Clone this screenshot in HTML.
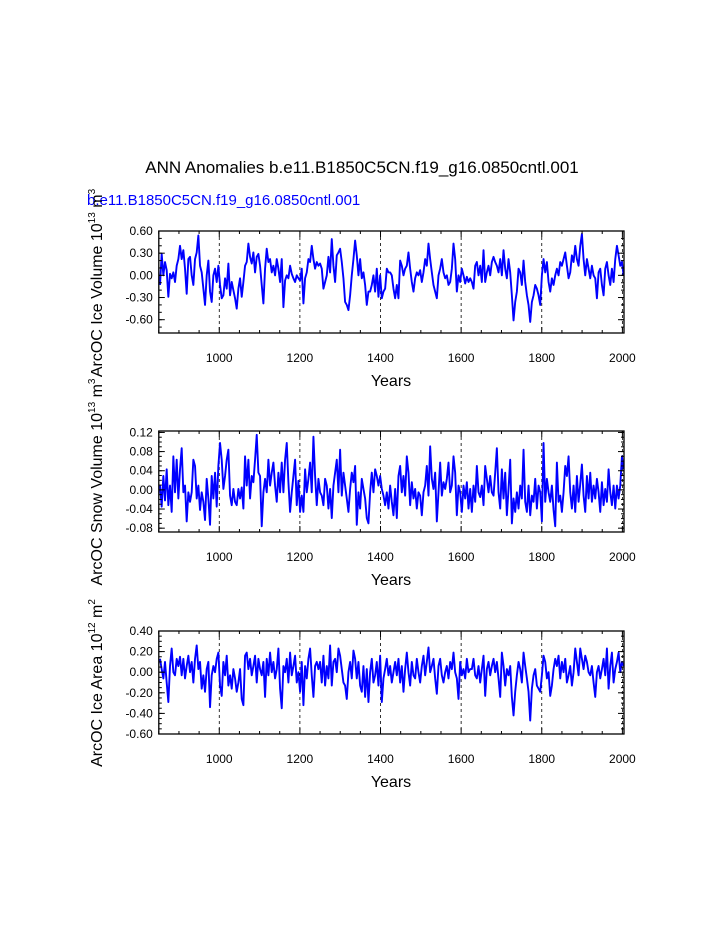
<!DOCTYPE html>
<html><head><meta charset="utf-8"><style>
body{margin:0;background:#fff;}
svg{display:block;font-family:"Liberation Sans",sans-serif;}
</style></head><body>
<svg id="chart" width="723" height="935" viewBox="0 0 723 935" xmlns="http://www.w3.org/2000/svg">
<text x="362" y="173" text-anchor="middle" font-size="17">ANN Anomalies b.e11.B1850C5CN.f19_g16.0850cntl.001</text>
<text x="87" y="205" font-size="15" fill="#0000ff">b.e11.B1850C5CN.f19_g16.0850cntl.001</text>
</svg>
<script>
const iceVol = [-0.13,0.29,0,0.18,0.07,-0.29,0.02,-0.04,0.04,-0.09,0.13,0.22,0.40,0.22,0.34,0.09,-0.25,0.22,0.25,0,-0.13,0.22,0.31,0.54,0.13,0.04,-0.18,-0.40,0,0.20,-0.22,-0.36,0,0.09,-0.09,0.13,-0.13,-0.31,-0.27,-0.04,-0.18,0.16,-0.27,-0.09,-0.20,-0.31,-0.45,-0.18,-0.04,-0.29,-0.09,0.13,0.18,0.43,0.25,0.16,0.31,0.04,0.25,0.29,0.13,-0.13,-0.38,0.09,0.36,0.18,0.22,0.04,0.13,0,0.22,0.09,-0.09,0.22,-0.43,-0.07,0,-0.04,0.13,0.02,-0.04,-0.09,0,-0.04,-0.07,0.09,-0.38,-0.04,0.04,0.22,0.18,0.40,0.22,0.09,0.18,0.13,0.16,
0.09,-0.18,-0.09,0,0.25,0.04,0.49,0.13,-0.09,0.27,0.31,0.36,0.18,-0.04,-0.36,-0.40,-0.47,-0.27,0,0.22,0.47,0.27,0,0.22,-0.04,0.04,-0.13,-0.40,-0.22,-0.22,-0.13,0,-0.22,0.09,-0.29,0,-0.31,-0.22,-0.18,0.09,0.04,0.04,0,-0.18,-0.31,-0.13,-0.31,0.20,0.13,0,0.09,0.13,0.31,0.09,-0.09,-0.22,-0.04,0.04,0,0.07,-0.09,0.04,0.22,0.13,0.43,0.22,0.04,-0.13,-0.22,-0.31,0,0.09,0.22,0.04,-0.04,0,-0.13,-0.09,0.09,0.43,0.22,-0.22,0,-0.09,0.09,0,-0.11,-0.02,-0.09,-0.04,
-0.09,-0.18,0.13,0.18,0,0.13,-0.09,0.34,-0.09,0.04,0.13,0,0.18,0.25,0.18,0.13,0.04,0.22,0,0.34,0.09,-0.04,0.22,0.04,-0.27,-0.61,-0.36,-0.22,0.09,0.04,-0.13,0.20,-0.09,-0.27,-0.40,-0.63,-0.36,-0.27,-0.13,-0.18,-0.27,-0.40,0,0.22,0.04,0.18,-0.09,-0.22,-0.04,-0.13,0,0.09,0,0.18,0.13,0.22,0.31,0.13,-0.04,0.04,0.27,0.18,0.40,0.22,0.13,0.40,0.56,0.22,0,0.22,0.09,-0.04,0.13,0,-0.04,-0.31,0.04,0.09,-0.13,-0.27,0.09,0.18,0,-0.13,0.09,-0.09,0.22,0.40,0.27,0.13,0.18,0];
const snowVol = [0.009,-0.035,0.029,-0.022,0.043,-0.032,0.009,-0.046,0.070,-0.005,0.063,-0.018,0.043,0.087,-0.005,0.009,-0.066,-0.005,-0.025,-0.005,0.063,0.050,-0.018,0.009,-0.042,-0.005,-0.025,-0.063,0.023,-0.018,-0.073,0.029,-0.018,0.036,-0.035,0.050,0.098,0.063,0.002,0.029,0.063,0.084,-0.012,-0.032,0.002,-0.025,-0.032,0.002,-0.018,0.005,-0.039,0.070,0.009,0.063,-0.018,0.029,0.016,0.063,0.115,0.036,0.029,-0.076,-0.005,0.023,-0.005,0.063,0.009,0.036,0.057,0.009,-0.025,0.036,-0.005,0.057,-0.005,0.063,0.098,0.016,-0.046,-0.005,0.029,0.063,-0.032,0.019,-0.046,-0.012,-0.046,0.043,-0.005,0.023,0.057,-0.005,0.111,0.029,-0.032,0.023,-0.005,
-0.012,-0.032,0.023,0.009,-0.039,0.002,-0.059,0.009,0.036,0.063,-0.005,0.084,-0.012,0.036,0.009,-0.018,-0.046,0.002,0.036,0.016,0.050,-0.073,-0.005,-0.039,0.023,0.002,-0.018,-0.059,-0.070,-0.005,0.036,-0.005,0.043,0.029,0.009,0.029,0.002,-0.012,-0.032,-0.005,-0.039,0.009,-0.025,-0.053,0.002,-0.059,0.029,0.050,-0.005,0.029,-0.012,0.070,0.036,-0.032,0.016,-0.018,0.002,-0.039,-0.005,-0.012,-0.053,-0.005,0.009,0.050,-0.012,0.091,0.023,0.002,0.036,-0.066,-0.005,0.057,-0.012,0.016,0.002,0.023,0.057,-0.005,0.009,0.070,0.036,-0.053,0.009,-0.005,-0.046,0.009,-0.018,0.016,-0.039,0.002,
-0.046,0.009,-0.025,0.050,-0.005,-0.015,0.009,-0.032,0.050,0.023,-0.005,0.029,-0.005,-0.012,0.036,0.087,-0.005,-0.039,0.043,-0.018,0.036,-0.053,0.002,0.063,-0.070,-0.018,-0.046,-0.005,-0.039,0.009,-0.018,0.084,-0.025,-0.046,0.009,-0.053,-0.012,-0.025,0.023,-0.039,0.009,-0.005,-0.066,0.098,-0.025,0.023,-0.005,-0.025,0.009,-0.042,-0.076,0.057,-0.025,-0.012,-0.046,-0.005,0.050,0.029,0.070,-0.005,-0.039,0.009,-0.046,0.029,-0.025,0.012,0.053,-0.012,-0.046,0.029,-0.018,0.036,-0.025,0.009,-0.018,0.023,-0.005,-0.046,0.016,-0.032,0.002,-0.025,0.043,-0.005,-0.032,0.009,-0.039,0.009,-0.018,0.009,0.070,0.043];
const iceArea = [0.13,0.03,-0.06,0.10,-0.10,-0.29,0.06,0.23,0,-0.03,0.13,0.06,0.15,-0.03,0.13,-0.06,0.06,0.16,0,0.10,-0.10,0.13,0.26,0.03,0.10,-0.16,-0.03,-0.19,0.03,0.10,-0.34,-0.03,0.06,0,0.13,0.19,-0.13,-0.23,0.10,-0.03,0.16,-0.13,-0.03,-0.16,0.03,-0.06,-0.19,-0.10,0.03,-0.26,-0.32,0.16,0.19,0.03,0.13,-0.03,0.06,0.16,-0.10,0.13,0.03,-0.03,0.10,-0.24,0.13,-0.03,0.19,0,0.10,-0.06,0.03,0.23,-0.16,-0.35,0.06,0,0.13,-0.10,0.19,-0.03,0.06,0.16,-0.10,0,-0.19,0.10,-0.32,0.06,-0.06,0.13,0.23,-0.03,-0.24,0.06,0.10,0.03,0.10,
-0.10,0.16,-0.13,0.06,-0.06,0.26,-0.13,0.10,0.13,0,0.23,0.16,0.03,-0.10,-0.13,-0.26,0,0.10,-0.06,0.21,0.13,-0.06,0.10,-0.13,-0.19,0.06,-0.24,0.03,-0.29,0,0.13,-0.10,-0.03,0.10,-0.13,0.16,-0.29,-0.06,0.03,0.13,-0.03,0.06,-0.10,0,0.10,-0.03,0.13,-0.10,0.06,-0.19,0.03,0.19,0,-0.13,0.10,-0.03,-0.06,0.13,0,-0.10,0.06,0.16,-0.03,0.10,0.24,0,0.06,0.13,-0.06,-0.21,0.06,0.13,-0.03,-0.10,0,0.06,-0.06,0.10,0.03,0.19,0,-0.06,-0.26,0.10,-0.03,0.03,-0.06,0.13,0,0.03,
0.03,0.13,-0.03,-0.06,0.06,-0.10,0.03,0.16,-0.23,0.03,0.10,-0.03,0.06,0.13,0,0.10,-0.06,-0.24,0.19,0.06,-0.13,0.03,-0.03,0.06,-0.24,-0.42,-0.19,-0.03,0.10,0.03,-0.10,0.19,0.06,-0.06,-0.19,-0.47,-0.16,-0.03,0.03,-0.13,-0.16,-0.19,-0.03,0.16,0.10,-0.06,0,-0.23,-0.13,0.03,0.13,0.06,0.16,-0.06,0.10,0,0.13,-0.10,-0.03,0.06,-0.13,0,0.23,0.10,-0.03,0.23,0.13,0.03,0.16,0.10,0,-0.03,0.06,-0.10,-0.24,0,0.06,-0.06,0.03,0.13,-0.03,0.23,-0.16,0.06,0.19,-0.10,0.03,0.10,0.19,0,0.10,0.06];
const xTickYears = [1000,1200,1400,1600,1800,2000];
const p1Ticks = [0.6,0.3,0,-0.3,-0.6];
const p1Labels = ["0.60","0.30","0.00","-0.30","-0.60"];
const p2Ticks = [0.12,0.08,0.04,0,-0.04,-0.08];
const p2Labels = ["0.12","0.08","0.04","0.00","-0.04","-0.08"];
const p3Ticks = [0.4,0.2,0,-0.2,-0.4,-0.6];
const p3Labels = ["0.40","0.20","0.00","-0.20","-0.40","-0.60"];

const NS = "http://www.w3.org/2000/svg";
const svg = document.getElementById('chart');
const X0 = 158.8, X1 = 624, YR0 = 850, YR1 = 2004;
function xScale(yr){ return X0 + (yr - YR0) * (X1 - X0) / (YR1 - YR0); }
function mk(tag, attrs, parent){ const e = document.createElementNS(NS, tag); for (const k in attrs) e.setAttribute(k, attrs[k]); (parent||svg).appendChild(e); return e; }

const panels = [
 {key:'ice-volume', data:iceVol, top:231, bot:333, vmax:0.6, vmin:-0.78, ticks:p1Ticks, labels:p1Labels, minor:0.1, title:['ArcOC Ice Volume 10','13',' m','3'], tcy:283},
 {key:'snow-volume', data:snowVol, top:431, bot:532, vmax:0.123, vmin:-0.088, ticks:p2Ticks, labels:p2Labels, minor:0.01, title:['ArcOC Snow Volume 10','13',' m','3'], tcy:482},
 {key:'ice-area', data:iceArea, top:631, bot:734, vmax:0.4, vmin:-0.6, ticks:p3Ticks, labels:p3Labels, minor:0.05, title:['ArcOC Ice Area 10','12',' m','2'], tcy:683}
];
panels.forEach(p => {
  const g = mk('g', {});
  
  
  const ys = v => p.top + (p.vmax - v) * (p.bot - p.top) / (p.vmax - p.vmin);
  xTickYears.forEach(yr => {
    const l = mk('line', {x1:xScale(yr), x2:xScale(yr), y1:p.top, y2:p.bot, stroke:'#000', 'stroke-width':0.8, 'stroke-dasharray':'3,3'}, g);
    
    
  });
  const n = p.data.length;
  let d = '';
  p.data.forEach((v, i) => {
    const yr = 853 + i * (2003 - 853) / (n - 1);
    d += (i ? 'L' : 'M') + xScale(yr).toFixed(2) + ',' + ys(v).toFixed(2);
  });
  const path = mk('path', {d:d, fill:'none', stroke:'#0000ff', 'stroke-width':1.9, 'stroke-linejoin':'round'}, g);
  
  
  for (let yr = 850; yr <= 2004; yr += 50) {
    const x = xScale(yr), len = (yr % 200 === 0) ? 6 : 3;
    mk('line', {x1:x, x2:x, y1:p.bot, y2:p.bot - len, stroke:'#000', 'stroke-width':1}, g);
    mk('line', {x1:x, x2:x, y1:p.top, y2:p.top + len, stroke:'#000', 'stroke-width':1}, g);
  }
  xTickYears.forEach(yr => {
    const t = mk('text', {x:xScale(yr), y:p.bot + 29, 'text-anchor':'middle', 'font-size':12}, g);
    
    
    t.textContent = yr;
  });
  const xt = mk('text', {x:391, y:p.bot + 53, 'text-anchor':'middle', 'font-size':16}, g);
  
  
  xt.textContent = 'Years';
  const steps = Math.round((p.vmax - p.vmin) / p.minor) + 2;
  for (let k = -steps; k <= steps; k++) {
    const v = k * p.minor;
    if (v > p.vmax + 1e-9 || v < p.vmin - 1e-9) continue;
    const y = ys(v);
    mk('line', {x1:X0, x2:X0 + 3, y1:y, y2:y, stroke:'#000', 'stroke-width':1}, g);
    mk('line', {x1:X1, x2:X1 - 3, y1:y, y2:y, stroke:'#000', 'stroke-width':1}, g);
  }
  p.ticks.forEach((v, i) => {
    const y = ys(v);
    mk('line', {x1:X0, x2:X0 + 6, y1:y, y2:y, stroke:'#000', 'stroke-width':1}, g);
    mk('line', {x1:X1, x2:X1 - 6, y1:y, y2:y, stroke:'#000', 'stroke-width':1}, g);
    const t = mk('text', {x:X0 - 6, y:y + 4, 'text-anchor':'end', 'font-size':12}, g);
    
    
    t.textContent = p.labels[i];
  });
  const frame = mk('rect', {x:X0, y:p.top, width:X1 - X0, height:p.bot - p.top, fill:'none', stroke:'#000', 'stroke-width':1.3}, g);
  
  
  const yt = mk('text', {x:0, y:0, 'text-anchor':'middle', 'font-size':16, transform:'translate(102,' + p.tcy + ') rotate(-90)'}, g);
  
  
  const parts = p.title;
  const a = document.createElementNS(NS, 'tspan'); a.textContent = parts[0]; yt.appendChild(a);
  const b = document.createElementNS(NS, 'tspan'); b.setAttribute('dy', '-7'); b.setAttribute('font-size', '10'); b.textContent = parts[1]; yt.appendChild(b);
  const c = document.createElementNS(NS, 'tspan'); c.setAttribute('dy', '7'); c.textContent = parts[2]; yt.appendChild(c);
  const e = document.createElementNS(NS, 'tspan'); e.setAttribute('dy', '-7'); e.setAttribute('font-size', '10'); e.textContent = parts[3]; yt.appendChild(e);
});
</script>
</body></html>
